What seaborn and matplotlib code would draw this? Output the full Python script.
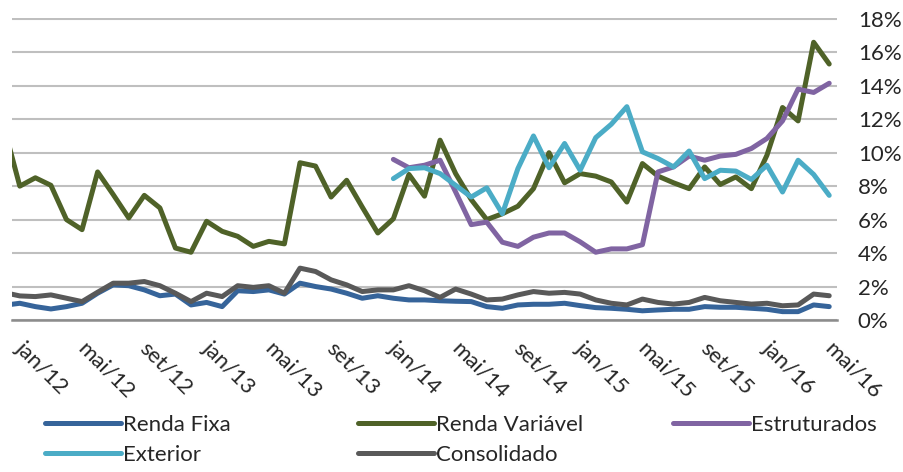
import numpy as np
import pandas as pd
import matplotlib.pyplot as plt
import seaborn as sns
from matplotlib.lines import Line2D
from matplotlib.transforms import ScaledTranslation

sns.set_style("white")
plt.rcParams["font.family"] = ["Lato", "DejaVu Sans"]

# months from dez/11 to mai/16 (dez/11 only feeds the clipped start of the lines)
nomes_mes = ["jan", "fev", "mar", "abr", "mai", "jun", "jul", "ago", "set", "out", "nov", "dez"]
meses = ["dez/11"] + [m + "/" + str(a) for a in (12, 13, 14, 15) for m in nomes_mes] + \
        [m + "/16" for m in nomes_mes[:5]]

series = ["Renda Fixa", "Renda Variável", "Estruturados", "Exterior", "Consolidado"]
cores = ["#36649A", "#4F6228", "#8064A2", "#4BACC6", "#595959"]

renda_fixa = [0.88, 1.0, 0.8, 0.66, 0.8, 1.0, 1.6, 2.1, 2.05, 1.8, 1.45, 1.55, 0.9, 1.05,
              0.8, 1.75, 1.7, 1.8, 1.55, 2.2, 2.0, 1.85, 1.6, 1.3, 1.45, 1.3, 1.2, 1.2,
              1.15, 1.12, 1.1, 0.8, 0.7, 0.9, 0.94, 0.94, 1.0, 0.86, 0.74, 0.7, 0.64,
              0.55, 0.6, 0.64, 0.64, 0.8, 0.76, 0.76, 0.7, 0.64, 0.5, 0.5, 0.9, 0.8]
renda_variavel = [11.5, 8.0, 8.5, 8.05, 6.0, 5.4, 8.85, 7.5, 6.1, 7.45, 6.7, 4.3, 4.05, 5.9,
                  5.3, 5.0, 4.4, 4.7, 4.55, 9.4, 9.2, 7.35, 8.35, 6.75, 5.2, 6.05, 8.7, 7.4,
                  10.75, 8.75, 7.2, 6.0, 6.35, 6.8, 7.85, 10.0, 8.2, 8.75, 8.6, 8.25, 7.05,
                  9.35, 8.6, 8.2, 7.85, 9.15, 8.1, 8.55, 7.85, 9.85, 12.7, 11.9, 16.6, 15.3]
# Estruturados and Exterior start in jan/14
estruturados = [9.6, 9.1, 9.25, 9.55, 7.65, 5.7, 5.85, 4.65, 4.4, 4.95, 5.2, 5.2, 4.67, 4.05,
                4.25, 4.25, 4.5, 8.85, 9.15, 9.8, 9.55, 9.8, 9.9, 10.25, 10.85, 11.9, 13.8,
                13.6, 14.15]
exterior = [8.45, 9.05, 9.1, 8.75, 8.05, 7.35, 7.9, 6.35, 9.05, 11.0, 9.1, 10.55, 8.95, 10.9,
            11.7, 12.75, 10.05, 9.65, 9.15, 10.1, 8.45, 8.95, 8.9, 8.4, 9.25, 7.65, 9.55,
            8.7, 7.45]
consolidado = [1.64, 1.44, 1.4, 1.5, 1.3, 1.1, 1.66, 2.2, 2.2, 2.3, 2.05, 1.6, 1.1, 1.6,
               1.4, 2.05, 1.95, 2.05, 1.6, 3.1, 2.9, 2.4, 2.1, 1.7, 1.8, 1.8, 2.05, 1.75,
               1.35, 1.85, 1.55, 1.2, 1.25, 1.5, 1.7, 1.6, 1.65, 1.55, 1.2, 1.0, 0.9, 1.25,
               1.05, 0.95, 1.05, 1.35, 1.15, 1.05, 0.95, 1.0, 0.85, 0.9, 1.55, 1.45]

rotulos_x = ["jan/12", "mai/12", "set/12", "jan/13", "mai/13", "set/13", "jan/14",
             "mai/14", "set/14", "jan/15", "mai/15", "set/15", "jan/16", "mai/16"]
rotulos_y = ["0%", "2%", "4%", "6%", "8%", "10%", "12%", "14%", "16%", "18%"]

# long table for seaborn, position = month index with jan/12 = 0
pos = {m: i - 1 for i, m in enumerate(meses)}
valores = [renda_fixa, renda_variavel, estruturados, exterior, consolidado]
linhas = []
for nome, vals in zip(series, valores):
    for m, v in zip(meses[len(meses) - len(vals):], vals):
        linhas.append({"serie": nome, "mes": m, "x": pos[m], "valor": v})
df = pd.DataFrame(linhas)

fig = plt.figure(figsize=(9.04, 4.72), dpi=100)
ax = fig.add_axes([12 / 904, 1 - 320 / 472, 825 / 904, 302 / 472])

sns.lineplot(data=df, x="x", y="valor", hue="serie", hue_order=series,
             palette=dict(zip(series, cores)), linewidth=3.6, estimator=None,
             sort=False, legend=False, ax=ax)
for ln in ax.lines:
    ln.set_solid_joinstyle("round")
    ln.set_solid_capstyle("round")
    ln.set_zorder(3)

ax.set_xlim(-0.5, 52.5)
ax.set_ylim(0, 18.05)

ax.set_yticks(range(0, 19, 2))
ax.set_yticklabels(rotulos_y)
ax.yaxis.tick_right()
ax.tick_params(axis="y", length=0, pad=15, labelsize=16, labelcolor="#262626")
ax.grid(axis="y", color="#BFBFBF", linewidth=1.5)
ax.set_axisbelow(True)

ax.set_xticks([pos[r] for r in rotulos_x])
ax.set_xticklabels(rotulos_x, rotation=-45, ha="left", va="top", rotation_mode="anchor")
ax.tick_params(axis="x", length=0, pad=13, labelsize=16, labelcolor="#262626")
off = ScaledTranslation(6 / 100, 0, fig.dpi_scale_trans)
for lab in ax.get_xticklabels():
    lab.set_transform(lab.get_transform() + off)

ax.set_xlabel("")
ax.set_ylabel("")
for s in ["top", "left", "right"]:
    ax.spines[s].set_visible(False)
ax.spines["bottom"].set_color("#8C8C8C")
ax.spines["bottom"].set_linewidth(1.8)

# legend laid out in three columns like the original
handles = {n: Line2D([], [], color=c, lw=3.6, solid_capstyle="round") for n, c in zip(series, cores)}
colunas = [(["Renda Fixa", "Exterior"], 45), (["Renda Variável", "Consolidado"], 358), (["Estruturados"], 673)]
for nomes, xpix in colunas:
    leg = fig.legend([handles[n] for n in nomes], nomes, loc="upper left",
                     bbox_to_anchor=(xpix / 904, 1 - 415 / 472), frameon=False,
                     fontsize=16, handlelength=3.4, handletextpad=0.1,
                     labelspacing=0.45, borderpad=0, borderaxespad=0)
    for t in leg.get_texts():
        t.set_color("#262626")

fig.savefig("out.png", dpi=100)
